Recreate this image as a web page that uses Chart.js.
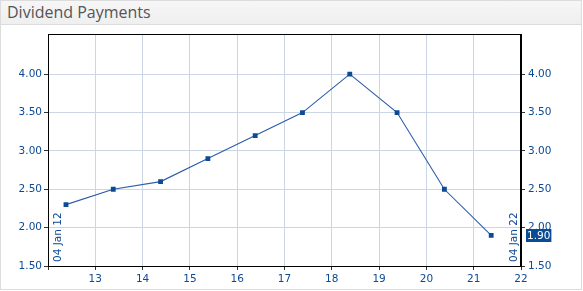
<!DOCTYPE html>
<html>
<head>
<meta charset="utf-8">
<script src="https://cdn.jsdelivr.net/npm/chart.js@4/dist/chart.umd.min.js"></script>
<style>
body { margin: 0; background: #fff; }
#wrap { position: absolute; left: 0; top: 0; width: 580px; height: 288px; border: 1px solid #dcdcdc; }
#title { height: 23px; border-bottom: 1px solid #dcdcdc; background: linear-gradient(#f6f6f6, #efefef);
  font-family: "Open Sans", sans-serif; font-size: 16px; color: #555; line-height: 23px; padding-left: 6px; }
#box { position: relative; width: 580px; height: 264px; }
</style>
</head>
<body>
<div id="wrap">
  <div id="title">Dividend Payments</div>
  <div id="box"><canvas id="myChart"></canvas></div>
</div>
<script>
var years = [12.38, 13.38, 14.38, 15.38, 16.38, 17.38, 18.38, 19.38, 20.38, 21.37];
var payments = [2.30, 2.50, 2.60, 2.90, 3.20, 3.50, 4.00, 3.50, 2.50, 1.90];
var yTicks = [1.5, 2.0, 2.5, 3.0, 3.5, 4.0];
var rangeStart = '04 Jan 12';
var rangeEnd = '04 Jan 22';

var blue = '#0b4a94';
var tickFont = { family: 'DejaVu Sans', size: 10.5 };

var points = [];
for (var i = 0; i < years.length; i++) {
    points.push({ x: years[i], y: payments[i] });
}

function setYTicks(scale) {
    scale.ticks = yTicks.map(function(v) { return { value: v }; });
}

// frame, range labels and last value badge
var extras = {
    id: 'extras',
    afterDraw: function(chart) {
        var ctx = chart.ctx;
        var a = chart.chartArea;
        ctx.save();
        ctx.strokeStyle = '#000';
        ctx.lineWidth = 1;
        ctx.strokeRect(Math.round(a.left) + 0.5, Math.round(a.top) + 0.5,
            Math.round(a.right - a.left) - 1, Math.round(a.bottom - a.top));

        ctx.font = '10.5px "DejaVu Sans"';
        ctx.fillStyle = blue;
        ctx.save();
        ctx.translate(a.left + 5, a.bottom - 4);
        ctx.rotate(-Math.PI / 2);
        ctx.textBaseline = 'top';
        ctx.fillText(rangeStart, 0, 0);
        ctx.restore();
        ctx.save();
        ctx.translate(a.right - 4, a.bottom - 4);
        ctx.rotate(-Math.PI / 2);
        ctx.textBaseline = 'alphabetic';
        ctx.fillText(rangeEnd, 0, 0);
        ctx.restore();

        var last = payments[payments.length - 1];
        var y = chart.scales.y2.getPixelForValue(last);
        var txt = last.toFixed(2);
        var w = ctx.measureText(txt).width + 2;
        ctx.fillStyle = blue;
        ctx.fillRect(a.right + 5, Math.round(y) - 6, w, 13);
        ctx.fillStyle = '#fff';
        ctx.textBaseline = 'middle';
        ctx.fillText(txt, a.right + 6, Math.round(y) + 1);
        ctx.restore();
    }
};

var ctx = document.getElementById('myChart');
var myChart = new Chart(ctx, {
    type: 'line',
    data: {
        datasets: [{
            label: 'Dividend',
            data: points,
            borderColor: '#2a5cab',
            borderWidth: 1.1,
            pointStyle: 'rect',
            pointRadius: 3.4,
            pointBorderWidth: 0,
            pointBackgroundColor: blue,
            tension: 0
        }]
    },
    plugins: [extras],
    options: {
        responsive: true,
        maintainAspectRatio: false,
        animation: false,
        layout: { padding: { top: 8 } },
        plugins: { legend: { display: false }, tooltip: { enabled: false } },
        scales: {
            x: {
                type: 'linear',
                min: 12,
                max: 22,
                ticks: {
                    stepSize: 1,
                    color: blue,
                    font: tickFont,
                    padding: 3,
                    maxRotation: 0,
                    callback: function(v) { return v === 12 ? '' : v; }
                },
                grid: { color: '#cbd5e4', tickColor: '#333', tickLength: 4 },
                border: { color: '#000' },
                afterFit: function(s) { s.height = 23; }
            },
            y: {
                position: 'left',
                min: 1.5,
                max: 4.52,
                afterBuildTicks: setYTicks,
                ticks: { color: blue, font: tickFont, padding: 2, callback: function(v) { return v.toFixed(2); } },
                grid: { color: '#cbd5e4', tickColor: '#333', tickLength: 4 },
                border: { color: '#000' },
                afterFit: function(s) { s.width = 47; }
            },
            y2: {
                position: 'right',
                min: 1.5,
                max: 4.52,
                afterBuildTicks: setYTicks,
                ticks: { color: blue, font: tickFont, padding: 3, callback: function(v) { return v.toFixed(2); } },
                grid: { drawOnChartArea: false, tickColor: '#333', tickLength: 4 },
                border: { color: '#000' },
                afterFit: function(s) { s.width = 60; }
            }
        }
    }
});
</script>
</body>
</html>
